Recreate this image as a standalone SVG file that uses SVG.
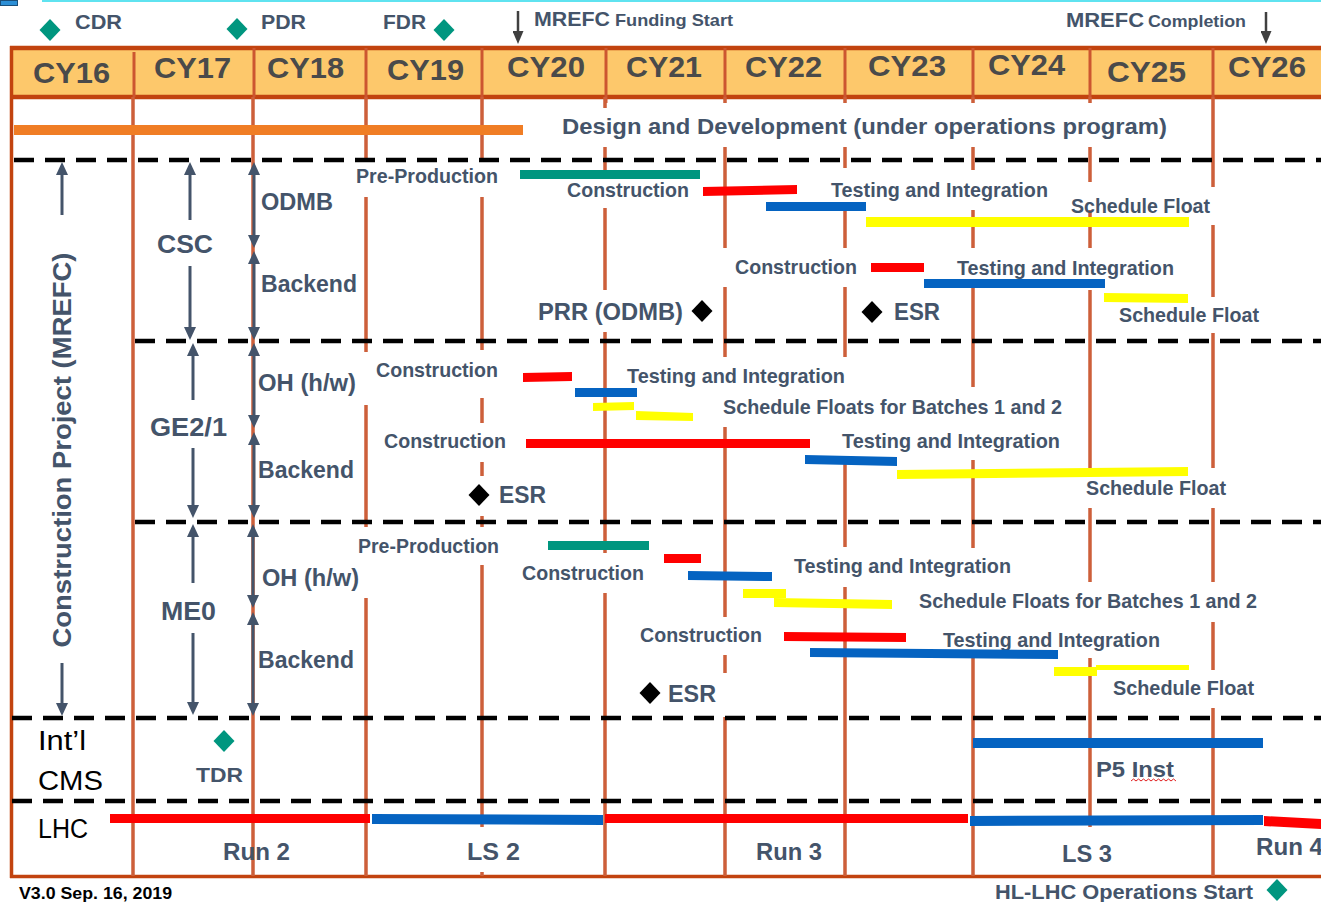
<svg xmlns="http://www.w3.org/2000/svg" width="1321" height="902" viewBox="0 0 1321 902">
<style>
.t{font-family:"Liberation Sans",Arial,Helvetica,sans-serif;font-weight:bold;fill:#44546A}
.cy{font-size:30px;fill:#4a4a4a}
.s19{font-size:20.5px}
.s21{font-size:21px}
.s17{font-size:17px}
.s23{font-size:23px}
.s26{font-size:26px}
.s24{font-size:24px}
.k{fill:#000;font-weight:normal;font-size:27px}
.grid{stroke:#cd5f3a;stroke-width:3.5;fill:none}
.hdiv{stroke:#cc5630;stroke-width:3}
.dash{stroke:#000;stroke-width:4.5;stroke-dasharray:20 11;fill:none}
.arr{stroke:#44546A;stroke-width:3;fill:none}
.red{fill:#ff0000}.blue{fill:#0563C1}.yel{fill:#ffff00}.teal{fill:#00967f}
</style>
<defs>
<marker id="ah" viewBox="0 0 10 10" refX="0" refY="5" markerWidth="13" markerHeight="12" markerUnits="userSpaceOnUse" orient="auto-start-reverse" preserveAspectRatio="none"><path d="M0,0 L10,5 L0,10 Z" fill="#44546A"/></marker>
<marker id="ahd" viewBox="0 0 10 10" refX="0" refY="5" markerWidth="13" markerHeight="11" markerUnits="userSpaceOnUse" orient="auto-start-reverse" preserveAspectRatio="none"><path d="M0,0 L10,5 L0,10 Z" fill="#404040"/></marker>
<path id="dia" d="M0,-11 L10.5,0 L0,11 L-10.5,0 Z"/>
</defs>
<rect width="1321" height="902" fill="#fff"/>
<!-- top decoration -->
<rect x="0.5" y="0.5" width="17" height="5" fill="#2c8fd6" stroke="#1a4f7a" stroke-width="1"/>
<line x1="42" y1="1" x2="1321" y2="1" stroke="#5fe3f0" stroke-width="2"/>

<!-- header -->
<g id="header">
<rect x="11" y="48" width="1312" height="49" fill="#fdc86b"/>
<line x1="10" y1="48" x2="1321" y2="48" stroke="#c2430f" stroke-width="4.5"/>
<line x1="10" y1="97" x2="1321" y2="97" stroke="#c2430f" stroke-width="4.5"/>
<g class="hdiv">
<line x1="134" y1="52" x2="134" y2="97"/><line x1="254" y1="48" x2="254" y2="97"/>
<line x1="366" y1="48" x2="366" y2="97"/><line x1="482" y1="48" x2="482" y2="97"/>
<line x1="606" y1="48" x2="606" y2="103"/><line x1="725" y1="48" x2="725" y2="97"/>
<line x1="845" y1="48" x2="845" y2="97"/><line x1="973" y1="48" x2="973" y2="97"/>
<line x1="1090" y1="48" x2="1090" y2="97"/><line x1="1213" y1="48" x2="1213" y2="97"/>
</g>
<g class="t cy">
<text x="33" y="83" textLength="77" lengthAdjust="spacingAndGlyphs">CY16</text>
<text x="154" y="78" textLength="77" lengthAdjust="spacingAndGlyphs">CY17</text>
<text x="267" y="78" textLength="77" lengthAdjust="spacingAndGlyphs">CY18</text>
<text x="387" y="80" textLength="77" lengthAdjust="spacingAndGlyphs">CY19</text>
<text x="507" y="77" textLength="78" lengthAdjust="spacingAndGlyphs">CY20</text>
<text x="626" y="77" textLength="76" lengthAdjust="spacingAndGlyphs">CY21</text>
<text x="745" y="77" textLength="77" lengthAdjust="spacingAndGlyphs">CY22</text>
<text x="868" y="76" textLength="78" lengthAdjust="spacingAndGlyphs">CY23</text>
<text x="988" y="75" textLength="77" lengthAdjust="spacingAndGlyphs">CY24</text>
<text x="1107" y="82" textLength="79" lengthAdjust="spacingAndGlyphs">CY25</text>
<text x="1228" y="77" textLength="78" lengthAdjust="spacingAndGlyphs">CY26</text>
</g>
</g>

<!-- frame -->
<g id="frame" stroke="#c2430f" stroke-width="3.5">
<line x1="11.5" y1="46" x2="11.5" y2="878"/>
<line x1="10" y1="876.5" x2="1321" y2="876.5"/>
</g>

<!-- grid lines -->
<g id="grid" class="grid">
<path d="M133,97V876"/>
<path d="M253,97V876"/>
<path d="M366,97V162M366,197V352M366,405V527M366,598V876"/>
<path d="M482,97V162M482,197V350M482,398V423M482,462V476M482,516V527M482,565V827M482,872V876"/>
<path d="M605,97V108M605,147V170M605,208V290M605,332V553M605,593V876"/>
<path d="M725,97V103M725,147V248M725,287V357M725,427V617M725,655V673M725,717V876"/>
<path d="M845,97V103M845,147V168M845,210V248M845,287V357M845,463V547M845,587V876"/>
<path d="M973,97V103M973,147V170M973,210V248M973,287V387M973,460V548M973,657V876"/>
<path d="M1090,97V103M1090,147V182M1090,210V248M1090,290V468M1090,508V582M1090,658V827"/>
<path d="M1213,97V187M1213,225V297M1213,333V468M1213,508V582M1213,622V670M1213,708V876"/>
</g>

<!-- dashed separators -->
<g id="separators" class="dash">
<line x1="14" y1="160" x2="1321" y2="160"/>
<line x1="135" y1="341" x2="1321" y2="341"/>
<line x1="135" y1="522" x2="1321" y2="522"/>
<line x1="12" y1="718" x2="1321" y2="718"/>
<line x1="12" y1="801" x2="1321" y2="801"/>
</g>

<!-- milestones top -->
<g id="milestones">
<use href="#dia" x="50" y="30" fill="#00967f"/>
<text class="t s21" x="75" y="29" textLength="47" lengthAdjust="spacingAndGlyphs">CDR</text>
<use href="#dia" x="237" y="29" fill="#00967f"/>
<text class="t s21" x="261" y="29" textLength="45" lengthAdjust="spacingAndGlyphs">PDR</text>
<text class="t s21" x="383" y="29" textLength="43" lengthAdjust="spacingAndGlyphs">FDR</text>
<use href="#dia" x="444" y="30" fill="#00967f"/>
<text class="t s21" x="534" y="26" textLength="76" lengthAdjust="spacingAndGlyphs">MREFC</text>
<text class="t s17" x="615" y="26" textLength="118" lengthAdjust="spacingAndGlyphs">Funding Start</text>
<text class="t s21" x="1066" y="27" textLength="78" lengthAdjust="spacingAndGlyphs">MREFC</text>
<text class="t s17" x="1148" y="27" textLength="98" lengthAdjust="spacingAndGlyphs">Completion</text>
</g>

<!-- design row -->
<g id="design">
<rect x="14" y="125" width="509" height="10" fill="#f07d25"/>
<text class="t" style="font-size:22.5px" x="562" y="134" textLength="605" lengthAdjust="spacingAndGlyphs">Design and Development (under operations program)</text>
</g>

<!-- left labels -->
<g id="project-label">
<text class="t s26" transform="translate(71,450) rotate(-90)" text-anchor="middle" textLength="395" lengthAdjust="spacingAndGlyphs">Construction Project (MREFC)</text>
</g>

<!-- CSC -->
<g id="csc">
<text class="t s26" x="157" y="253" textLength="56" lengthAdjust="spacingAndGlyphs">CSC</text>
<text class="t s23" x="261" y="210" textLength="72" lengthAdjust="spacingAndGlyphs">ODMB</text>
<text class="t s23" x="261" y="292" textLength="96" lengthAdjust="spacingAndGlyphs">Backend</text>
<text class="t s19" x="356" y="183" textLength="142" lengthAdjust="spacingAndGlyphs">Pre-Production</text>
<rect class="teal" x="520" y="170" width="180" height="9"/>
<text class="t s19" x="567" y="197" textLength="122" lengthAdjust="spacingAndGlyphs">Construction</text>
<polygon class="red" points="703,187 797,185 797,194 703,196"/>
<text class="t s19" x="831" y="197" textLength="217" lengthAdjust="spacingAndGlyphs">Testing and Integration</text>
<rect class="blue" x="766" y="202" width="100" height="9"/>
<text class="t s19" x="1071" y="213" textLength="139" lengthAdjust="spacingAndGlyphs">Schedule Float</text>
<rect class="yel" x="866" y="217" width="323" height="10"/>
<text class="t s19" x="735" y="274" textLength="122" lengthAdjust="spacingAndGlyphs">Construction</text>
<rect class="red" x="871" y="263" width="53" height="9"/>
<text class="t s19" x="957" y="275" textLength="217" lengthAdjust="spacingAndGlyphs">Testing and Integration</text>
<rect class="blue" x="924" y="279" width="181" height="9"/>
<polygon class="yel" points="1104,293 1188,294 1188,303 1104,302"/>
<text class="t s19" x="1119" y="322" textLength="140" lengthAdjust="spacingAndGlyphs">Schedule Float</text>
<text class="t s23" x="538" y="320" textLength="145" lengthAdjust="spacingAndGlyphs">PRR (ODMB)</text>
<use href="#dia" x="702" y="311" fill="#000"/>
<use href="#dia" x="872" y="312" fill="#000"/>
<text class="t s23" x="894" y="320" textLength="46" lengthAdjust="spacingAndGlyphs">ESR</text>
</g>

<!-- GE2/1 -->
<g id="ge21">
<text class="t s26" x="150" y="436" textLength="77" lengthAdjust="spacingAndGlyphs">GE2/1</text>
<text class="t s23" x="258" y="391" textLength="98" lengthAdjust="spacingAndGlyphs">OH (h/w)</text>
<text class="t s23" x="258" y="478" textLength="96" lengthAdjust="spacingAndGlyphs">Backend</text>
<text class="t s19" x="376" y="377" textLength="122" lengthAdjust="spacingAndGlyphs">Construction</text>
<polygon class="red" points="523,373 572,372 572,381 523,382"/>
<text class="t s19" x="627" y="383" textLength="218" lengthAdjust="spacingAndGlyphs">Testing and Integration</text>
<rect class="blue" x="575" y="388" width="62" height="9"/>
<polygon class="yel" points="593,403 634,402 634,410 593,411"/>
<polygon class="yel" points="636,411 693,413 693,421 636,420"/>
<text class="t s19" x="723" y="414" textLength="339" lengthAdjust="spacingAndGlyphs">Schedule Floats for Batches 1 and 2</text>
<text class="t s19" x="384" y="448" textLength="122" lengthAdjust="spacingAndGlyphs">Construction</text>
<rect class="red" x="526" y="439" width="284" height="9"/>
<text class="t s19" x="842" y="448" textLength="218" lengthAdjust="spacingAndGlyphs">Testing and Integration</text>
<polygon class="blue" points="805,455 897,457 897,466 805,464"/>
<polygon class="yel" points="897,470 1188,467 1188,476 897,479"/>
<text class="t s19" x="1086" y="495" textLength="140" lengthAdjust="spacingAndGlyphs">Schedule Float</text>
<use href="#dia" x="479" y="495" fill="#000"/>
<text class="t s23" x="499" y="503" textLength="47" lengthAdjust="spacingAndGlyphs">ESR</text>
</g>

<!-- ME0 -->
<g id="me0">
<text class="t s26" x="161" y="620" textLength="55" lengthAdjust="spacingAndGlyphs">ME0</text>
<text class="t s23" x="262" y="586" textLength="97" lengthAdjust="spacingAndGlyphs">OH (h/w)</text>
<text class="t s23" x="258" y="668" textLength="96" lengthAdjust="spacingAndGlyphs">Backend</text>
<text class="t s19" x="358" y="553" textLength="141" lengthAdjust="spacingAndGlyphs">Pre-Production</text>
<rect class="teal" x="548" y="541" width="101" height="9"/>
<text class="t s19" x="522" y="580" textLength="122" lengthAdjust="spacingAndGlyphs">Construction</text>
<rect class="red" x="664" y="554" width="37" height="9"/>
<text class="t s19" x="794" y="573" textLength="217" lengthAdjust="spacingAndGlyphs">Testing and Integration</text>
<polygon class="blue" points="688,571 772,572 772,581 688,580"/>
<rect class="yel" x="743" y="589" width="43" height="9"/>
<polygon class="yel" points="774,598 892,600 892,609 774,607"/>
<text class="t s19" x="919" y="608" textLength="338" lengthAdjust="spacingAndGlyphs">Schedule Floats for Batches 1 and 2</text>
<text class="t s19" x="640" y="642" textLength="122" lengthAdjust="spacingAndGlyphs">Construction</text>
<polygon class="red" points="784,632 906,633 906,642 784,641"/>
<text class="t s19" x="943" y="647" textLength="217" lengthAdjust="spacingAndGlyphs">Testing and Integration</text>
<polygon class="blue" points="810,648 1058,650 1058,659 810,657"/>
<rect class="yel" x="1054" y="667" width="43" height="9"/>
<rect class="yel" x="1096" y="665" width="93" height="5"/>
<text class="t s19" x="1113" y="695" textLength="141" lengthAdjust="spacingAndGlyphs">Schedule Float</text>
<use href="#dia" x="650" y="693" fill="#000"/>
<text class="t s23" x="668" y="702" textLength="48" lengthAdjust="spacingAndGlyphs">ESR</text>
</g>

<!-- Int'l CMS -->
<g id="intl-cms">
<text class="t k" x="38" y="750" textLength="48" lengthAdjust="spacingAndGlyphs">Int’l</text>
<text class="t k" x="38" y="790" textLength="65" lengthAdjust="spacingAndGlyphs">CMS</text>
<use href="#dia" x="224" y="741" fill="#00967f"/>
<text class="t s21" x="196" y="782" textLength="47" lengthAdjust="spacingAndGlyphs">TDR</text>
<rect class="blue" x="973" y="738" width="290" height="10"/>
<text class="t" style="font-size:22px" x="1096" y="777" textLength="78" lengthAdjust="spacingAndGlyphs">P5 Inst</text>
<polyline points="1131,781 1133.5,779 1136,781 1138.5,779 1141,781 1143.5,779 1146,781 1148.5,779 1151,781 1153.5,779 1156,781 1158.5,779 1161,781 1163.5,779 1166,781 1168.5,779 1171,781 1173.5,779 1176,781" fill="none" stroke="#e02020" stroke-width="1"/>
</g>

<!-- LHC -->
<g id="lhc">
<text class="t k" x="38" y="838" textLength="50" lengthAdjust="spacingAndGlyphs">LHC</text>
<rect class="red" x="110" y="814" width="260" height="9"/>
<polygon class="blue" points="372,814 603,815 603,825 372,824"/>
<rect class="red" x="605" y="814" width="363" height="9"/>
<polygon class="blue" points="970,816 1263,815 1263,825 970,826"/>
<polygon class="red" points="1264,816 1321,819 1321,829 1264,826"/>
<text class="t s24" x="223" y="860" textLength="67" lengthAdjust="spacingAndGlyphs">Run 2</text>
<text class="t s24" x="467" y="860" textLength="53" lengthAdjust="spacingAndGlyphs">LS 2</text>
<text class="t s24" x="756" y="860" textLength="66" lengthAdjust="spacingAndGlyphs">Run 3</text>
<text class="t s24" x="1062" y="862" textLength="50" lengthAdjust="spacingAndGlyphs">LS 3</text>
<text class="t s24" x="1256" y="855" textLength="67" lengthAdjust="spacingAndGlyphs">Run 4</text>
</g>

<!-- footer -->
<g id="footer">
<text class="t" style="font-size:16px;fill:#000" x="19" y="899" textLength="153" lengthAdjust="spacingAndGlyphs">V3.0 Sep. 16, 2019</text>
<text class="t s21" x="995" y="899" textLength="258" lengthAdjust="spacingAndGlyphs">HL-LHC Operations Start</text>
<use href="#dia" x="1277" y="890" fill="#00967f"/>
</g>

<!-- connectors / arrows -->
<g id="connectors">
<line class="arr" x1="62" y1="215" x2="62" y2="175" marker-end="url(#ah)"/>
<line class="arr" x1="62" y1="663" x2="62" y2="703" marker-end="url(#ah)"/>
<line class="arr" x1="190" y1="220" x2="190" y2="175" marker-end="url(#ah)"/>
<line class="arr" x1="190" y1="266" x2="190" y2="327" marker-end="url(#ah)"/>
<line class="arr" x1="254" y1="175" x2="254" y2="235" marker-start="url(#ah)" marker-end="url(#ah)"/>
<line class="arr" x1="254" y1="264" x2="254" y2="327" marker-start="url(#ah)" marker-end="url(#ah)"/>
<line class="arr" x1="193" y1="400" x2="193" y2="356" marker-end="url(#ah)"/>
<line class="arr" x1="193" y1="448" x2="193" y2="505" marker-end="url(#ah)"/>
<line class="arr" x1="254" y1="356" x2="254" y2="415" marker-start="url(#ah)" marker-end="url(#ah)"/>
<line class="arr" x1="254" y1="445" x2="254" y2="505" marker-start="url(#ah)" marker-end="url(#ah)"/>
<line class="arr" x1="193" y1="583" x2="193" y2="537" marker-end="url(#ah)"/>
<line class="arr" x1="193" y1="633" x2="193" y2="702" marker-end="url(#ah)"/>
<line class="arr" x1="253" y1="537" x2="253" y2="595" marker-start="url(#ah)" marker-end="url(#ah)"/>
<line class="arr" x1="253" y1="625" x2="253" y2="703" marker-start="url(#ah)" marker-end="url(#ah)"/>
<line x1="518" y1="11" x2="518" y2="31" stroke="#404040" stroke-width="2.5" marker-end="url(#ahd)"/>
<line x1="1266" y1="12" x2="1266" y2="31" stroke="#404040" stroke-width="2.5" marker-end="url(#ahd)"/>
</g>
</svg>
